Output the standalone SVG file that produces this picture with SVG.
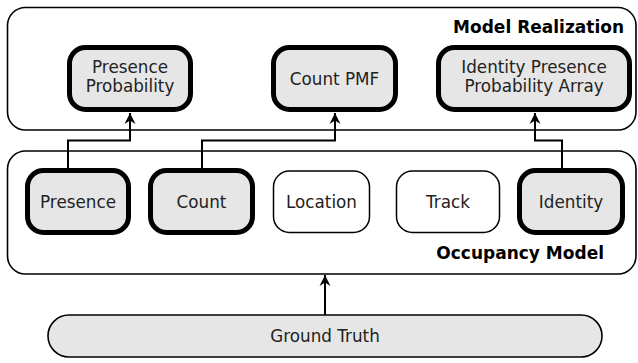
<svg xmlns="http://www.w3.org/2000/svg" width="638" height="363" viewBox="0 0 638 363">
<defs>
<style>
.cont{fill:#fff;stroke:#000;stroke-width:1.6}
.thick{fill:#e6e6e6;stroke:#000;stroke-width:5}
.thin{fill:#fff;stroke:#000;stroke-width:1.5}
.gt{fill:#e6e6e6;stroke:#000;stroke-width:1.6}
.lbl{font-family:"DejaVu Sans",sans-serif;font-size:16.8px;fill:#222;text-anchor:middle}
.title{font-family:"DejaVu Sans",sans-serif;font-size:17px;font-weight:bold;fill:#000;text-anchor:end}
.conn{fill:none;stroke:#000;stroke-width:2}
</style>
<marker id="arr" markerUnits="userSpaceOnUse" markerWidth="14" markerHeight="14" viewBox="-12 -7 14 14" refX="0" refY="0" orient="auto">
<path d="M0,0 L-11,-5.5 L-7.5,0 L-11,5.5 Z" fill="#000"/>
</marker>
</defs>
<g id="model-realization">
<rect class="cont" x="7.5" y="7.5" width="628.5" height="122.5" rx="18"/>
<text class="title" x="624" y="33">Model Realization</text>
</g>
<g id="occupancy-model">
<rect class="cont" x="7.5" y="151" width="628.5" height="123" rx="18"/>
<text class="title" x="604" y="259">Occupancy Model</text>
</g>
<g id="presence-probability">
<rect class="thick" x="69.5" y="47.5" width="121" height="62" rx="16"/>
<text class="lbl" x="130" y="73">Presence</text>
<text class="lbl" x="130" y="91.5">Probability</text>
</g>
<g id="count-pmf">
<rect class="thick" x="273.5" y="47.5" width="122" height="62" rx="16"/>
<text class="lbl" x="334.5" y="84.5">Count PMF</text>
</g>
<g id="identity-presence-probability-array">
<rect class="thick" x="438.5" y="47.5" width="191" height="62" rx="16"/>
<text class="lbl" x="534" y="73">Identity Presence</text>
<text class="lbl" x="534" y="91.5">Probability Array</text>
</g>
<g id="presence">
<rect class="thick" x="27.5" y="170.5" width="101" height="62" rx="16"/>
<text class="lbl" x="78" y="208">Presence</text>
</g>
<g id="count">
<rect class="thick" x="150.5" y="170.5" width="102" height="62" rx="16"/>
<text class="lbl" x="201.5" y="208">Count</text>
</g>
<g id="location">
<rect class="thin" x="273.5" y="171" width="96" height="61.5" rx="16"/>
<text class="lbl" x="321.5" y="208">Location</text>
</g>
<g id="track">
<rect class="thin" x="396.5" y="171" width="103" height="61.5" rx="16"/>
<text class="lbl" x="448" y="208">Track</text>
</g>
<g id="identity">
<rect class="thick" x="519.5" y="170.5" width="103" height="62" rx="16"/>
<text class="lbl" x="571" y="208">Identity</text>
</g>
<g id="ground-truth">
<rect class="gt" x="48" y="315" width="554" height="42" rx="21"/>
<text class="lbl" x="325" y="342">Ground Truth</text>
</g>
<g id="connectors">
<path class="conn" d="M68,168 V140.5 H130 V113" marker-end="url(#arr)"/>
<path class="conn" d="M202,168 V140.5 H335 V113" marker-end="url(#arr)"/>
<path class="conn" d="M562,168 V140.5 H535 V113" marker-end="url(#arr)"/>
<path class="conn" d="M325,315 V275" marker-end="url(#arr)"/>
</g>
</svg>
